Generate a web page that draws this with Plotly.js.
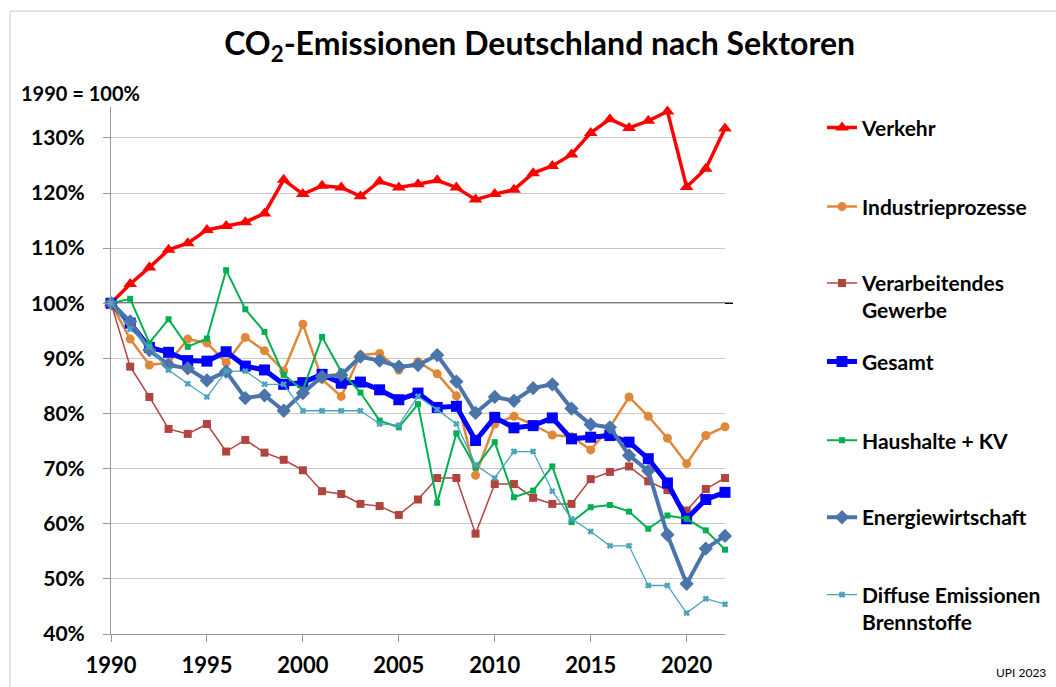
<!DOCTYPE html>
<html>
<head>
<meta charset="utf-8">
<script src="https://cdn.plot.ly/plotly-3.0.1.min.js"></script>
<style>html,body{margin:0;padding:0;background:#fff;}#chart{width:1056px;height:687px;}</style>
</head>
<body>
<div id="chart"></div>
<script>
const years = [1990,1991,1992,1993,1994,1995,1996,1997,1998,1999,2000,2001,2002,2003,2004,2005,2006,2007,2008,2009,2010,2011,2012,2013,2014,2015,2016,2017,2018,2019,2020,2021,2022];
const verkehr = [100,103.5,106.5,109.7,110.9,113.3,114.0,114.7,116.3,122.4,119.8,121.3,121.0,119.4,122.1,121.0,121.6,122.3,121.0,118.8,119.8,120.6,123.6,124.9,127.0,130.9,133.4,131.8,133.1,134.8,121.1,124.4,131.7];
const industrieprozesse = [100,93.5,88.8,89.2,93.5,92.8,89.2,93.8,91.4,87.7,96.2,86.2,83.1,90.6,90.9,87.9,89.4,87.2,83.2,68.8,78.1,79.5,78.0,76.1,75.8,73.4,77.5,83.0,79.5,75.5,70.9,76.0,77.6];
const verarbeitendesGewerbe = [100,88.5,83.0,77.2,76.3,78.1,73.1,75.2,72.9,71.6,69.7,65.9,65.4,63.6,63.2,61.6,64.4,68.3,68.3,58.2,67.2,67.2,64.7,63.6,63.6,68.1,69.4,70.4,67.7,66.1,62.4,66.3,68.3];
const gesamt = [100,96.4,92.0,91.1,89.6,89.5,91.2,88.6,87.9,85.3,85.6,87.1,85.5,85.7,84.3,82.5,83.7,81.1,81.3,75.1,79.3,77.4,77.8,79.2,75.4,75.7,76.0,74.8,71.8,67.4,60.9,64.4,65.7];
const haushalteKV = [100,100.8,92.8,97.1,92.1,93.6,106.0,98.9,94.8,87.0,84.3,93.9,87.6,83.8,78.7,77.5,81.7,63.8,76.4,70.2,74.8,64.8,66.0,70.4,60.3,63.0,63.4,62.2,59.1,61.5,60.9,58.8,55.3];
const energiewirtschaft = [100,96.7,91.5,88.8,88.2,86.0,87.6,82.8,83.3,80.5,83.7,86.7,87.0,90.3,89.6,88.5,88.8,90.6,85.8,80.1,83.0,82.3,84.6,85.3,80.9,78.0,77.5,72.4,69.6,58.0,49.1,55.5,57.8];
const diffuseBrennstoffe = [100,95.3,92.1,87.9,85.4,83.0,87.7,87.7,85.3,85.3,80.5,80.5,80.5,80.5,78.1,77.9,83.1,80.7,78.1,70.7,68.3,73.1,73.1,65.9,60.9,58.6,56.0,56.0,48.8,48.8,43.8,46.4,45.4];
const seriesNames = ["Verkehr","Industrieprozesse","Verarbeitendes<br>Gewerbe","Gesamt","Haushalte + KV","Energiewirtschaft","Diffuse Emissionen<br>Brennstoffe"];
const xTickVals = [1990,1995,2000,2005,2010,2015,2020];
const yTickVals = [40,50,60,70,80,90,100,110,120,130];
const yTickText = ["40%","50%","60%","70%","80%","90%","100%","110%","120%","130%"];

const FONT = "Lato, 'Open Sans', sans-serif";
const styles = [
  {data: verkehr, color: "#ff0000", width: 3.5, symbol: "triangle-up", size: 12},
  {data: industrieprozesse, color: "#e0883a", width: 2.5, symbol: "circle", size: 9},
  {data: verarbeitendesGewerbe, color: "#b0443f", width: 1.5, symbol: "square", size: 8},
  {data: gesamt, color: "#0000ff", width: 5, symbol: "square", size: 11},
  {data: haushalteKV, color: "#00b050", width: 2, symbol: "square", size: 6},
  {data: energiewirtschaft, color: "#4a74aa", width: 4, symbol: "diamond", size: 11},
  {data: diffuseBrennstoffe, color: "#4aa3bd", width: 1.3, symbol: "x", size: 5}
];
const legendYs = [0.9602, 0.8104, 0.6398, 0.5166, 0.3668, 0.2209, 0.0484];
const legendIds = ["legend","legend2","legend3","legend4","legend5","legend6","legend7"];

const traces = styles.map((s, i) => ({
  x: years, y: s.data, name: seriesNames[i], type: "scatter", mode: "lines+markers",
  line: {color: s.color, width: s.width},
  marker: {color: s.color, symbol: s.symbol, size: s.size, line: {width: s.symbol === "x" ? 1 : 0, color: s.color}},
  cliponaxis: false, legend: legendIds[i], showlegend: true
}));

const layout = {
  width: 1056, height: 687,
  margin: {l: 111, r: 331, t: 107, b: 52.5, autoexpand: false},
  paper_bgcolor: "#fff", plot_bgcolor: "#fff",
  font: {family: FONT, color: "#000"},
  title: {text: "CO<sub>2</sub>-Emissionen Deutschland nach Sektoren", font: {family: FONT, size: 32, weight: 700, color: "#000"},
          xref: "container", x: 0.511, xanchor: "center", yref: "container", y: 0.936, yanchor: "middle"},
  xaxis: {range: [1990, 2022], tickvals: xTickVals, ticks: "outside", ticklen: 7, tickcolor: "#999",
          showline: true, linecolor: "#999", linewidth: 1, showgrid: false, zeroline: false, automargin: false,
          tickfont: {family: FONT, size: 22, weight: 700, color: "#000"}, ticklabelstandoff: 5},
  yaxis: {range: [40, 135.6], tickvals: yTickVals, ticktext: yTickText, ticks: "outside", ticklen: 7, tickcolor: "#999",
          showline: true, linecolor: "#999", linewidth: 1, showgrid: true, gridcolor: "#c8c8c8", gridwidth: 1, zeroline: false, automargin: false,
          tickfont: {family: FONT, size: 21, weight: 700, color: "#000"}, ticklabelstandoff: 14},
  shapes: [
    {type: "line", xref: "paper", yref: "y", x0: 0, x1: 1.013, y0: 100, y1: 100, line: {color: "#000", width: 1.5}, layer: "below"},
    {type: "rect", xref: "paper", yref: "paper", x0: -0.1645, x1: 1.6, y0: -0.2, y1: 1.182, line: {color: "#c8c8c8", width: 1}, layer: "below"}
  ],
  annotations: [
    {text: "1990 = 100%", xref: "paper", yref: "paper", x: (19 - 111) / 614, y: (634.5 - 93) / 527.5, xanchor: "left", yanchor: "middle",
     showarrow: false, font: {family: FONT, size: 20, weight: 700, color: "#000"}},
    {text: "UPI 2023", xref: "paper", yref: "paper", x: (1048 - 111) / 614, y: (634.5 - 673) / 527.5, xanchor: "right", yanchor: "middle",
     showarrow: false, font: {family: FONT, size: 12, color: "#000"}}
  ]
};
legendIds.forEach((id, i) => {
  layout[id] = {x: (822 - 111) / 614, xanchor: "left", y: legendYs[i], yanchor: "middle", valign: "top",
                bgcolor: "rgba(0,0,0,0)", borderwidth: 0,
                font: {family: FONT, size: 21, weight: 700, color: "#000"}};
});

Plotly.newPlot("chart", traces, layout, {displayModeBar: false, staticPlot: true});
</script>
</body>
</html>
